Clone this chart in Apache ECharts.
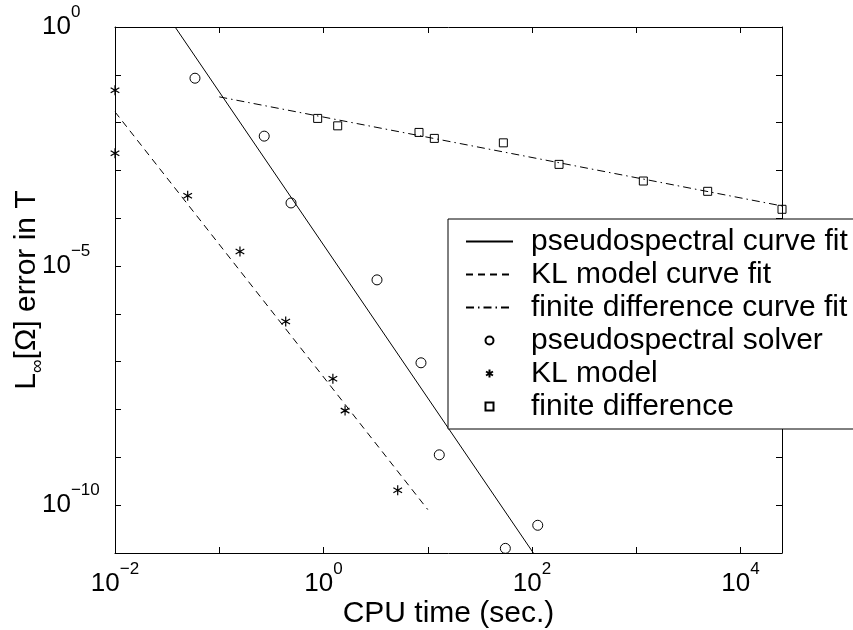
<!DOCTYPE html>
<html>
<head>
<meta charset="utf-8">
<script src="https://cdn.jsdelivr.net/npm/echarts@6/dist/echarts.min.js"></script>
<style>html,body{margin:0;padding:0;background:#fff;}#c{width:853px;height:630px;}</style>
</head>
<body>
<div id="c"></div>
<script>
// ---- data (CPU time in sec., L-inf error) ----
var psSolverX = [0.0585, 0.27, 0.488, 3.26, 8.61, 12.9, 113.5, 55.5];
var psSolverY = [0.0849, 5.22e-3, 2.09e-4, 5.15e-6, 9.5e-8, 1.13e-9, 3.8e-11, 1.25e-11];
var klModelX = [0.01, 0.01, 0.0498, 0.158, 0.434, 1.23, 1.61, 5.15];
var klModelY = [0.0476, 2.28e-3, 2.96e-4, 2.01e-5, 6.93e-7, 4.42e-8, 9.5e-9, 2.06e-10];
var fdX = [0.879, 1.368, 8.24, 11.56, 53.1, 181.6, 1169, 4842, 25000];
var fdY = [0.01225, 8.57e-3, 6.24e-3, 4.68e-3, 3.78e-3, 1.34e-3, 6.01e-4, 3.66e-4, 1.54e-4];
var psFitX = [0.0377, 103];
var psFitY = [1, 1e-11];
var klFitX = [0.01, 10];
var klFitY = [0.0168, 8.1e-11];
var fdFitX = [0.1, 25000];
var fdFitY = [0.0346, 1.81e-4];
var seriesNames = ['pseudospectral curve fit', 'KL model curve fit', 'finite difference curve fit',
                   'pseudospectral solver', 'KL model', 'finite difference'];
var xRange = [0.01, 25000];
var yRange = [1e-11, 1];
// tick positions and labelled ticks
var xTicks = [1e-2, 1e-1, 1, 10, 100, 1000, 10000];
var xTickLabels = [1e-2, 1, 100, 10000];
var yTicks = [1e-11, 1e-10, 1e-9, 1e-8, 1e-7, 1e-6, 1e-5, 1e-4, 1e-3, 1e-2, 1e-1, 1];
var yTickLabels = [1e-10, 1e-5, 1];
var xName = 'CPU time (sec.)';

function pairs(xs, ys) { return xs.map(function (x, i) { return [x, ys[i]]; }); }
function expLabel(v) {
  var r = Math.round(Math.log10(v));
  var s = r < 0 ? '\u2212' + (-r) : '' + r;
  return '{b|10}{e|' + s + '}';
}
var FONT = '"Liberation Sans", Arial, Helvetica, sans-serif';
var labelRich = {
  b: { fontSize: 26, lineHeight: 26, padding: [12, 0, 12, 0], color: '#000', fontFamily: FONT },
  e: { fontSize: 17, lineHeight: 17, padding: [2, 0, 31, 0], color: '#000', fontFamily: FONT }
};
var axisLine = { show: true, onZero: false, lineStyle: { color: '#000', width: 1 } };
function ticks(vals) {
  return { show: true, inside: true, length: 6, customValues: vals, lineStyle: { color: '#000', width: 1 } };
}

var asterisk = 'path://M5 0L5 10M0.67 2.5L9.33 7.5M0.67 7.5L9.33 2.5';
var square = 'path://M0 0L10 0L10 10L0 10Z';
var clear = 'rgba(0,0,0,0)';

var chart = echarts.init(document.getElementById('c'), null, { renderer: 'canvas' });
chart.setOption({
  animation: false,
  backgroundColor: '#fff',
  grid: { left: 115, right: 71, top: 27, bottom: 77, containLabel: false, outerBoundsMode: 'none' },
  legend: {
    orient: 'vertical',
    left: 448, top: 219,
    data: seriesNames.map(function (n, i) {
      return i < 3 ? { name: n, itemStyle: { opacity: 0 } } : { name: n };
    }),
    backgroundColor: '#fff',
    borderColor: '#000', borderWidth: 1, borderRadius: 0,
    padding: [6, 8, 6, 17],
    itemWidth: 47, itemHeight: 8, itemGap: 0,
    selectedMode: false,
    textStyle: { fontSize: 30, lineHeight: 33, color: '#000', fontFamily: FONT, padding: [0, 0, 0, 13] }
  },
  xAxis: [{
    type: 'log', logBase: 10, min: xRange[0], max: xRange[1],
    position: 'bottom',
    axisLine: axisLine, axisTick: ticks(xTicks), splitLine: { show: false },
    axisLabel: { customValues: xTickLabels, formatter: expLabel, rich: labelRich, margin: 18 },
    name: xName, nameLocation: 'middle', nameGap: 46, nameMoveOverlap: false,
    nameTextStyle: { fontSize: 30, color: '#000', fontFamily: FONT, verticalAlign: 'top' }
  }, {
    type: 'log', logBase: 10, min: xRange[0], max: xRange[1],
    position: 'top',
    axisLine: axisLine, axisTick: ticks(xTicks), splitLine: { show: false },
    axisLabel: { show: false }
  }],
  yAxis: [{
    type: 'log', logBase: 10, min: yRange[0], max: yRange[1],
    position: 'left',
    axisLine: axisLine, axisTick: ticks(yTicks), splitLine: { show: false },
    axisLabel: { customValues: yTickLabels, formatter: expLabel, rich: labelRich, margin: 73, align: 'left' },
    name: '{n|L}{s|\u221e}{n|[\u03a9] error in T}', nameLocation: 'middle', nameGap: 69, nameRotate: 90,
    nameMoveOverlap: false,
    nameTextStyle: {
      color: '#000', fontFamily: FONT,
      rich: {
        n: { fontSize: 30, lineHeight: 30, padding: [0, 0, 8, 0], color: '#000', fontFamily: FONT },
        s: { fontSize: 19, lineHeight: 19, padding: [16, 0, 3, 0], color: '#000', fontFamily: FONT }
      }
    }
  }, {
    type: 'log', logBase: 10, min: yRange[0], max: yRange[1],
    position: 'right',
    axisLine: axisLine, axisTick: ticks(yTicks), splitLine: { show: false },
    axisLabel: { show: false }
  }],
  series: [{
    name: seriesNames[0], type: 'line', data: pairs(psFitX, psFitY), symbol: 'none',
    lineStyle: { color: '#000', width: 1, type: 'solid' }, itemStyle: { color: '#000' }, z: 2
  }, {
    name: seriesNames[1], type: 'line', data: pairs(klFitX, klFitY), symbol: 'none',
    lineStyle: { color: '#000', width: 1, type: [7, 5] }, itemStyle: { color: '#000' }, z: 2
  }, {
    name: seriesNames[2], type: 'line', data: pairs(fdFitX, fdFitY), symbol: 'none',
    lineStyle: { color: '#000', width: 1, type: [8, 4, 1.5, 4] }, itemStyle: { color: '#000' }, z: 2
  }, {
    name: seriesNames[3], type: 'scatter', data: pairs(psSolverX, psSolverY), symbol: 'circle', symbolSize: 10,
    itemStyle: { color: clear, borderColor: '#000', borderWidth: 1, opacity: 1 }, z: 3
  }, {
    name: seriesNames[4], type: 'scatter', data: pairs(klModelX, klModelY), symbol: asterisk, symbolSize: 10,
    symbolKeepAspect: true,
    itemStyle: { color: clear, borderColor: '#000', borderWidth: 1.2, opacity: 1 }, z: 3
  }, {
    name: seriesNames[5], type: 'scatter', data: pairs(fdX, fdY), symbol: square, symbolSize: 8,
    symbolKeepAspect: true,
    itemStyle: { color: clear, borderColor: '#000', borderWidth: 1, opacity: 1 }, z: 3
  }]
});
</script>
</body>
</html>
